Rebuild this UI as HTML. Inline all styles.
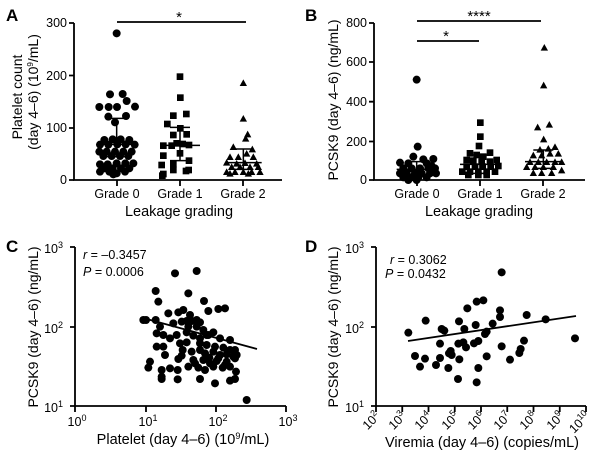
<!DOCTYPE html>
<html><head><meta charset="utf-8"><style>
html,body{margin:0;padding:0;background:#fff;}
svg{display:block;font-family:"Liberation Sans",Arial,sans-serif;}
</style></head><body>
<svg width="600" height="469" viewBox="0 0 600 469" xmlns="http://www.w3.org/2000/svg">
<g fill="#000" stroke="none">
<text x="6" y="21" font-size="17" font-weight="bold">A</text>
<text x="305" y="21" font-size="17" font-weight="bold">B</text>
<text x="6" y="252" font-size="17" font-weight="bold">C</text>
<text x="305" y="252" font-size="17" font-weight="bold">D</text>
</g>

<!-- ===== Panel A ===== -->
<g stroke="#000" stroke-width="1.8" fill="none">
<path d="M74,23 V180 H282"/>
<path d="M69,23H74M69,75.5H74M69,128H74M69,180H74"/>
<path d="M117,180V186M180,180V186M243,180V186"/>
<path d="M117,22H246"/>
</g>
<g font-size="12.5" fill="#000" text-anchor="end">
<text x="67" y="27">300</text><text x="67" y="80">200</text><text x="67" y="132">100</text><text x="67" y="184">0</text>
</g>
<g font-size="12.5" fill="#000" text-anchor="middle">
<text x="117" y="198">Grade 0</text><text x="180" y="198">Grade 1</text><text x="243" y="198">Grade 2</text>
<text x="179" y="216" font-size="14.5">Leakage grading</text>
<text x="179" y="22" font-size="15">*</text>
</g>
<g font-size="14" fill="#000" text-anchor="middle">
<text transform="translate(22,97) rotate(-90)">Platelet count</text>
<text transform="translate(38,92) rotate(-90)">(day 4–6) (10<tspan font-size="8" dy="-5">9</tspan><tspan dy="5">/mL)</tspan></text>
</g>
<g transform="scale(0.33333)" fill="#000">
<g>
<circle cx="350" cy="100" r="12"/><circle cx="330" cy="283" r="12"/><circle cx="368" cy="282" r="12"/><circle cx="298" cy="321" r="12"/><circle cx="326" cy="321" r="12"/><circle cx="351" cy="321" r="12"/><circle cx="380" cy="303" r="12"/><circle cx="405" cy="320" r="12"/><circle cx="325" cy="350" r="12"/><circle cx="378" cy="348" r="12"/><circle cx="345" cy="367" r="12"/><circle cx="313" cy="420" r="12"/><circle cx="338" cy="418" r="12"/><circle cx="362" cy="418" r="12"/><circle cx="388" cy="420" r="12"/><circle cx="300" cy="434" r="12"/><circle cx="325" cy="434" r="12"/><circle cx="352" cy="433" r="12"/><circle cx="377" cy="433" r="12"/><circle cx="404" cy="434" r="12"/><circle cx="298" cy="455" r="12"/><circle cx="320" cy="455" r="12"/><circle cx="345" cy="455" r="12"/><circle cx="370" cy="455" r="12"/><circle cx="395" cy="455" r="12"/><circle cx="310" cy="468" r="12"/><circle cx="335" cy="468" r="12"/><circle cx="360" cy="468" r="12"/><circle cx="385" cy="468" r="12"/><circle cx="300" cy="493" r="12"/><circle cx="323" cy="493" r="12"/><circle cx="350" cy="490" r="12"/><circle cx="376" cy="490" r="12"/><circle cx="400" cy="490" r="12"/><circle cx="313" cy="505" r="12"/><circle cx="338" cy="505" r="12"/><circle cx="363" cy="505" r="12"/><circle cx="388" cy="505" r="12"/><circle cx="300" cy="515" r="12"/><circle cx="328" cy="515" r="12"/><circle cx="350" cy="520" r="12"/><circle cx="375" cy="515" r="12"/><circle cx="340" cy="523" r="12"/>
</g>
<g>
<rect x="530" y="220" width="20" height="20"/><rect x="531" y="283" width="20" height="20"/><rect x="510" y="337" width="20" height="20"/><rect x="549" y="332" width="20" height="20"/><rect x="492" y="362" width="20" height="20"/><rect x="531" y="375" width="20" height="20"/><rect x="510" y="395" width="20" height="20"/><rect x="550" y="393" width="20" height="20"/><rect x="480" y="427" width="20" height="20"/><rect x="505" y="427" width="20" height="20"/><rect x="520" y="420" width="20" height="20"/><rect x="538" y="422" width="20" height="20"/><rect x="557" y="425" width="20" height="20"/><rect x="480" y="457" width="20" height="20"/><rect x="530" y="450" width="20" height="20"/><rect x="475" y="485" width="20" height="20"/><rect x="510" y="482" width="20" height="20"/><rect x="557" y="472" width="20" height="20"/><rect x="480" y="512" width="20" height="20"/><rect x="510" y="500" width="20" height="20"/><rect x="548" y="503" width="20" height="20"/><rect x="556" y="500" width="20" height="20"/><rect x="477" y="517" width="20" height="20"/>
</g>
<g>
<path d="M730,238l11,20h-22z"/><path d="M730,345l11,20h-22z"/><path d="M743,392l11,20h-22z"/><path d="M737,405l11,20h-22z"/><path d="M700,430l11,20h-22z"/><path d="M757,437l11,20h-22z"/><path d="M740,450l11,20h-22z"/><path d="M690,460l11,20h-22z"/><path d="M715,460l11,20h-22z"/><path d="M760,460l11,20h-22z"/><path d="M680,477l11,20h-22z"/><path d="M710,480l11,20h-22z"/><path d="M735,478l11,20h-22z"/><path d="M770,480l11,20h-22z"/><path d="M695,490l11,20h-22z"/><path d="M720,490l11,20h-22z"/><path d="M750,490l11,20h-22z"/><path d="M775,490l11,20h-22z"/><path d="M680,505l11,20h-22z"/><path d="M705,505l11,20h-22z"/><path d="M730,505l11,20h-22z"/><path d="M755,505l11,20h-22z"/><path d="M780,505l11,20h-22z"/><path d="M690,510l11,20h-22z"/><path d="M745,510l11,20h-22z"/>
</g>
<g stroke="#000" stroke-width="4.5" fill="none">
<path d="M290,433H410M350,355V470M320,355H380M320,470H380"/>
<path d="M480,436H600M540,382V482M510,382H570M510,482H570"/>
<path d="M675,488H785M730,447V508M700,447H760M700,508H760"/>
</g>
</g>

<!-- ===== Panel B ===== -->
<g stroke="#000" stroke-width="1.8" fill="none">
<path d="M374,23 V180 H585"/>
<path d="M369,23H374M369,62H374M369,101.7H374M369,141.5H374M369,180H374"/>
<path d="M417,180V186M480,180V186M543,180V186"/>
<path d="M417,21H541M417,41H479"/>
</g>
<g font-size="12.5" fill="#000" text-anchor="end">
<text x="367" y="27">800</text><text x="367" y="66">600</text><text x="367" y="106">400</text><text x="367" y="146">200</text><text x="367" y="184">0</text>
</g>
<g font-size="12.5" fill="#000" text-anchor="middle">
<text x="417" y="198">Grade 0</text><text x="480" y="198">Grade 1</text><text x="543" y="198">Grade 2</text>
<text x="479" y="216" font-size="14.5">Leakage grading</text>
<text x="479" y="21" font-size="15">****</text>
<text x="446" y="41" font-size="15">*</text>
</g>
<text transform="translate(338,100) rotate(-90)" font-size="14" text-anchor="middle" fill="#000">PCSK9 (day 4–6) (ng/mL)</text>
<g transform="translate(300,0) scale(0.33333)" fill="#000">
<g>
<circle cx="350" cy="239" r="12"/><circle cx="353" cy="440" r="12"/><circle cx="300" cy="488" r="12"/><circle cx="325" cy="490" r="12"/><circle cx="340" cy="470" r="12"/><circle cx="370" cy="478" r="12"/><circle cx="400" cy="477" r="12"/><circle cx="380" cy="490" r="12"/><circle cx="310" cy="505" r="12"/><circle cx="335" cy="505" r="12"/><circle cx="360" cy="505" r="12"/><circle cx="385" cy="505" r="12"/><circle cx="405" cy="505" r="12"/><circle cx="300" cy="520" r="12"/><circle cx="320" cy="520" r="12"/><circle cx="345" cy="520" r="12"/><circle cx="365" cy="520" r="12"/><circle cx="390" cy="520" r="12"/><circle cx="408" cy="520" r="12"/><circle cx="310" cy="532" r="12"/><circle cx="335" cy="532" r="12"/><circle cx="355" cy="532" r="12"/><circle cx="380" cy="532" r="12"/><circle cx="325" cy="540" r="12"/><circle cx="350" cy="540" r="12"/><circle cx="395" cy="498" r="12"/>
</g>
<g>
<rect x="531" y="358" width="20" height="20"/><rect x="531" y="400" width="20" height="20"/><rect x="527" y="428" width="20" height="20"/><rect x="500" y="450" width="20" height="20"/><rect x="520" y="455" width="20" height="20"/><rect x="540" y="460" width="20" height="20"/><rect x="560" y="448" width="20" height="20"/><rect x="490" y="470" width="20" height="20"/><rect x="510" y="472" width="20" height="20"/><rect x="535" y="475" width="20" height="20"/><rect x="560" y="475" width="20" height="20"/><rect x="580" y="470" width="20" height="20"/><rect x="477" y="505" width="20" height="20"/><rect x="500" y="505" width="20" height="20"/><rect x="525" y="505" width="20" height="20"/><rect x="550" y="505" width="20" height="20"/><rect x="575" y="505" width="20" height="20"/><rect x="490" y="490" width="20" height="20"/><rect x="515" y="490" width="20" height="20"/><rect x="538" y="490" width="20" height="20"/><rect x="562" y="490" width="20" height="20"/><rect x="585" y="488" width="20" height="20"/><rect x="525" y="515" width="20" height="20"/><rect x="550" y="515" width="20" height="20"/><rect x="495" y="515" width="20" height="20"/>
</g>
<g>
<path d="M733,132l11,20h-22z"/><path d="M731,245l11,20h-22z"/><path d="M713,371l11,20h-22z"/><path d="M748,363l11,20h-22z"/><path d="M731,407l11,20h-22z"/><path d="M720,438l11,20h-22z"/><path d="M745,435l11,20h-22z"/><path d="M765,430l11,20h-22z"/><path d="M700,455l11,20h-22z"/><path d="M725,455l11,20h-22z"/><path d="M750,450l11,20h-22z"/><path d="M775,450l11,20h-22z"/><path d="M690,475l11,20h-22z"/><path d="M715,475l11,20h-22z"/><path d="M740,475l11,20h-22z"/><path d="M765,475l11,20h-22z"/><path d="M785,475l11,20h-22z"/><path d="M700,508l11,20h-22z"/><path d="M725,508l11,20h-22z"/><path d="M755,508l11,20h-22z"/><path d="M680,490l11,20h-22z"/><path d="M705,490l11,20h-22z"/><path d="M730,490l11,20h-22z"/><path d="M760,490l11,20h-22z"/><path d="M785,500l11,20h-22z"/>
</g>
<g stroke="#000" stroke-width="4.5" fill="none">
<path d="M290,508H410M350,485V525M325,485H375M325,525H375"/>
<path d="M480,493H600M540,465V520M515,465H565M515,520H565"/>
<path d="M675,485H785M730,450V505M700,450H760M700,505H760"/>
</g>
</g>

<!-- ===== Panel C ===== -->
<g stroke="#000" stroke-width="1.8" fill="none">
<path d="M75,247 V406 H286"/>
<path d="M70,247H75M70,327H75M70,406H75"/>
<path d="M75,406V412M146,406V412M216,406V412M286,406V412"/>
<path d="M143,318L257,349" stroke-width="1.8"/>
</g>
<g font-size="12.5" fill="#000">
<g text-anchor="end">
<text x="63" y="253">10<tspan font-size="9" dy="-5">3</tspan></text>
<text x="63" y="333">10<tspan font-size="9" dy="-5">2</tspan></text>
<text x="63" y="412">10<tspan font-size="9" dy="-5">1</tspan></text>
</g>
<g text-anchor="middle">
<text x="77" y="426">10<tspan font-size="9" dy="-5">0</tspan></text>
<text x="148" y="426">10<tspan font-size="9" dy="-5">1</tspan></text>
<text x="218" y="426">10<tspan font-size="9" dy="-5">2</tspan></text>
<text x="288" y="426">10<tspan font-size="9" dy="-5">3</tspan></text>
<text x="183" y="444" font-size="14.5">Platelet (day 4–6) (10<tspan font-size="9" dy="-5">9</tspan><tspan dy="5">/mL)</tspan></text>
</g>
<text x="83" y="259"><tspan font-style="italic">r</tspan> = –0.3457</text>
<text x="83" y="276"><tspan font-style="italic">P</tspan> = 0.0006</text>
</g>
<text transform="translate(38,327) rotate(-90)" font-size="14" text-anchor="middle" fill="#000">PCSK9 (day 4–6) (ng/mL)</text>
<g transform="translate(0,235) scale(0.33333)" fill="#000">
<circle cx="525" cy="115" r="12"/><circle cx="590" cy="108" r="12"/><circle cx="467" cy="168" r="12"/><circle cx="475" cy="200" r="12"/><circle cx="565" cy="175" r="12"/><circle cx="612" cy="198" r="12"/><circle cx="438" cy="255" r="12"/><circle cx="467" cy="255" r="12"/><circle cx="505" cy="235" r="12"/><circle cx="535" cy="232" r="12"/><circle cx="550" cy="225" r="12"/><circle cx="570" cy="240" r="12"/><circle cx="590" cy="255" r="12"/><circle cx="625" cy="228" r="12"/><circle cx="655" cy="222" r="12"/><circle cx="675" cy="220" r="12"/><circle cx="560" cy="258" r="12"/><circle cx="575" cy="258" r="12"/><circle cx="600" cy="262" r="12"/><circle cx="430" cy="255" r="12"/><circle cx="480" cy="275" r="12"/><circle cx="520" cy="265" r="12"/><circle cx="545" cy="260" r="12"/><circle cx="565" cy="275" r="12"/><circle cx="590" cy="275" r="12"/><circle cx="610" cy="285" r="12"/><circle cx="625" cy="300" r="12"/><circle cx="640" cy="292" r="12"/><circle cx="470" cy="295" r="12"/><circle cx="490" cy="300" r="12"/><circle cx="510" cy="310" r="12"/><circle cx="530" cy="300" r="12"/><circle cx="560" cy="292" r="12"/><circle cx="580" cy="302" r="12"/><circle cx="600" cy="310" r="12"/><circle cx="620" cy="300" r="12"/><circle cx="660" cy="310" r="12"/><circle cx="690" cy="315" r="12"/><circle cx="470" cy="335" r="12"/><circle cx="490" cy="335" r="12"/><circle cx="540" cy="325" r="12"/><circle cx="560" cy="322" r="12"/><circle cx="600" cy="325" r="12"/><circle cx="620" cy="330" r="12"/><circle cx="645" cy="335" r="12"/><circle cx="670" cy="338" r="12"/><circle cx="690" cy="345" r="12"/><circle cx="705" cy="345" r="12"/><circle cx="710" cy="360" r="12"/><circle cx="495" cy="360" r="12"/><circle cx="548" cy="345" r="12"/><circle cx="575" cy="350" r="12"/><circle cx="600" cy="345" r="12"/><circle cx="615" cy="355" r="12"/><circle cx="640" cy="350" r="12"/><circle cx="660" cy="360" r="12"/><circle cx="680" cy="358" r="12"/><circle cx="700" cy="365" r="12"/><circle cx="450" cy="380" r="12"/><circle cx="545" cy="362" r="12"/><circle cx="580" cy="375" r="12"/><circle cx="585" cy="385" r="12"/><circle cx="610" cy="375" r="12"/><circle cx="630" cy="385" r="12"/><circle cx="650" cy="378" r="12"/><circle cx="675" cy="390" r="12"/><circle cx="690" cy="395" r="12"/><circle cx="445" cy="398" r="12"/><circle cx="510" cy="400" r="12"/><circle cx="535" cy="372" r="12"/><circle cx="565" cy="395" r="12"/><circle cx="595" cy="398" r="12"/><circle cx="615" cy="405" r="12"/><circle cx="640" cy="395" r="12"/><circle cx="668" cy="398" r="12"/><circle cx="485" cy="405" r="12"/><circle cx="533" cy="405" r="12"/><circle cx="485" cy="425" r="12"/><circle cx="485" cy="432" r="12"/><circle cx="533" cy="433" r="12"/><circle cx="600" cy="432" r="12"/><circle cx="645" cy="445" r="12"/><circle cx="690" cy="437" r="12"/><circle cx="705" cy="432" r="12"/><circle cx="708" cy="410" r="12"/><circle cx="628" cy="368" r="12"/><circle cx="655" cy="370" r="12"/><circle cx="680" cy="380" r="12"/><circle cx="705" cy="370" r="12"/><circle cx="740" cy="495" r="12"/>
</g>

<!-- ===== Panel D ===== -->
<g stroke="#000" stroke-width="1.8" fill="none">
<path d="M376,247 V406 H586"/>
<path d="M371,247H376M371,327H376M371,406H376"/>
<path d="M376,406V412M402.25,406V412M428.5,406V412M454.75,406V412M481,406V412M507.25,406V412M533.5,406V412M559.75,406V412M586,406V412"/>
<path d="M408,341L576,316" stroke-width="1.8"/>
</g>
<g font-size="12.5" fill="#000">
<g text-anchor="end">
<text x="364" y="253">10<tspan font-size="9" dy="-5">3</tspan></text>
<text x="364" y="333">10<tspan font-size="9" dy="-5">2</tspan></text>
<text x="364" y="412">10<tspan font-size="9" dy="-5">1</tspan></text>
<text transform="translate(381,417) rotate(-45)">10<tspan font-size="9" dy="-5">2</tspan></text>
<text transform="translate(407,417) rotate(-45)">10<tspan font-size="9" dy="-5">3</tspan></text>
<text transform="translate(433,417) rotate(-45)">10<tspan font-size="9" dy="-5">4</tspan></text>
<text transform="translate(460,417) rotate(-45)">10<tspan font-size="9" dy="-5">5</tspan></text>
<text transform="translate(486,417) rotate(-45)">10<tspan font-size="9" dy="-5">6</tspan></text>
<text transform="translate(512,417) rotate(-45)">10<tspan font-size="9" dy="-5">7</tspan></text>
<text transform="translate(538,417) rotate(-45)">10<tspan font-size="9" dy="-5">8</tspan></text>
<text transform="translate(565,417) rotate(-45)">10<tspan font-size="9" dy="-5">9</tspan></text>
<text transform="translate(591,417) rotate(-45)">10<tspan font-size="9" dy="-5">10</tspan></text>
</g>
<text x="482" y="447" font-size="14.5" text-anchor="middle">Viremia (day 4–6) (copies/mL)</text>
<text x="390" y="264"><tspan font-style="italic">r</tspan> = 0.3062</text>
<text x="385" y="278"><tspan font-style="italic">P</tspan> = 0.0432</text>
</g>
<text transform="translate(338,327) rotate(-90)" font-size="14" text-anchor="middle" fill="#000">PCSK9 (day 4–6) (ng/mL)</text>
<g transform="translate(300,235) scale(0.33333)" fill="#000">
<circle cx="325" cy="293" r="12"/><circle cx="345" cy="363" r="12"/><circle cx="360" cy="395" r="12"/><circle cx="375" cy="371" r="12"/><circle cx="377" cy="257" r="12"/><circle cx="408" cy="390" r="12"/><circle cx="420" cy="326" r="12"/><circle cx="420" cy="369" r="12"/><circle cx="425" cy="282" r="12"/><circle cx="433" cy="287" r="12"/><circle cx="445" cy="399" r="12"/><circle cx="452" cy="348" r="12"/><circle cx="455" cy="360" r="12"/><circle cx="477" cy="259" r="12"/><circle cx="475" cy="326" r="12"/><circle cx="478" cy="373" r="12"/><circle cx="474" cy="432" r="12"/><circle cx="490" cy="322" r="12"/><circle cx="493" cy="282" r="12"/><circle cx="498" cy="337" r="12"/><circle cx="502" cy="220" r="12"/><circle cx="527" cy="270" r="12"/><circle cx="530" cy="200" r="12"/><circle cx="530" cy="442" r="12"/><circle cx="535" cy="318" r="12"/><circle cx="535" cy="399" r="12"/><circle cx="550" cy="196" r="12"/><circle cx="555" cy="297" r="12"/><circle cx="560" cy="290" r="12"/><circle cx="560" cy="364" r="12"/><circle cx="578" cy="266" r="12"/><circle cx="600" cy="226" r="12"/><circle cx="600" cy="246" r="12"/><circle cx="605" cy="334" r="12"/><circle cx="630" cy="374" r="12"/><circle cx="658" cy="354" r="12"/><circle cx="662" cy="342" r="12"/><circle cx="672" cy="317" r="12"/><circle cx="680" cy="240" r="12"/><circle cx="737" cy="253" r="12"/><circle cx="825" cy="310" r="12"/><circle cx="605" cy="112" r="12"/><circle cx="447" cy="355" r="12"/><circle cx="522" cy="325" r="12"/>
</g>
</svg>
</body></html>
